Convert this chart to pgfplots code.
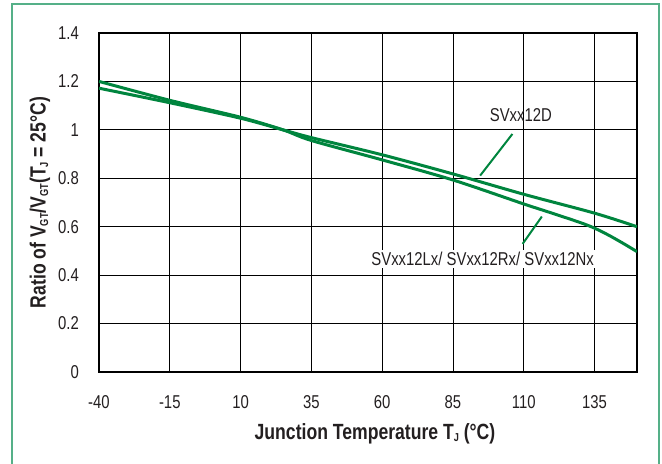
\documentclass[border=0pt]{standalone}
\usepackage{fontspec}
\setmainfont[FakeStretch=0.8]{Liberation Sans}
\newfontfamily\labfont[FakeStretch=0.8]{Liberation Sans Bold}
\usepackage{pgfplots}
\pgfplotsset{compat=1.18}
\definecolor{curve}{RGB}{0,133,62}
\definecolor{framec}{RGB}{85,176,136}
\definecolor{txt}{RGB}{35,31,32}
\newcommand{\sub}[1]{\raisebox{-2.5bp}{\fontsize{11.5bp}{11.5bp}\selectfont #1}}
\newcommand{\fs}{\fontsize{18.6bp}{22bp}\selectfont}
\newcommand{\fl}{\labfont\fontsize{22bp}{26bp}\selectfont}
\begin{document}
\begin{tikzpicture}
\path[use as bounding box] (-99bp,-92bp) rectangle (563bp,372bp);
\draw[framec, line width=2bp] (-87bp,-100bp) -- (-87bp,368bp) -- (560bp,368bp) -- (560bp,-100bp);
\begin{axis}[
  at={(0,0)}, anchor=south west, scale only axis, width=538bp, height=339bp,
  xmin=-40, xmax=150, ymin=0, ymax=1.4,
  xtick={-40,-15,10,35,60,85,110,135},
  xticklabels={-40,-15,10,35,60,85,110,135},
  ytick={0,0.2,0.4,0.6,0.8,1,1.2,1.4},
  yticklabels={0,0.2,0.4,0.6,0.8,1,1.2,1.4},
  grid=major, major grid style={black, line width=0.8bp},
  major tick length=0pt, tick style={draw=none},
  axis line style={black, line width=1.5bp},
  xticklabel style={font=\fs, text=txt, anchor=base, inner sep=0pt, yshift=-36bp},
  yticklabel style={font=\fs, text=txt, anchor=east, inner sep=0pt, xshift=-20bp},
  xlabel={Junction Temperature T\sub{J} (°C)},
  ylabel={Ratio of V\sub{GT}/V\sub{GT}(T\sub{J} = 25°C)},
  xlabel style={font=\fl, text=txt, at={(axis description cs:0.513,-0.1985)}, anchor=base, inner sep=0pt},
  ylabel style={font=\fl, text=txt, at={(axis description cs:-0.0991,0.5)}, anchor=base, inner sep=0pt},
]
\addplot[curve, line width=3bp, smooth] coordinates {
  (-40,1.172) (-15,1.112) (10,1.048) (25,1.0) (35,0.968) (60,0.897)
  (85,0.818) (110,0.734) (135,0.656) (150,0.600)};
\addplot[curve, line width=3bp, smooth] coordinates {
  (-40,1.200) (-15,1.122) (10,1.052) (25,1.0) (35,0.956) (60,0.876)
  (85,0.793) (110,0.694) (120,0.656) (130,0.617) (135,0.594) (140,0.565)
  (145,0.532) (150,0.497)};
\node[font=\fs, text=txt] at (axis cs:109,1.062) {SVxx12D};
\draw[curve, line width=2bp] (axis cs:106,0.983) -- (axis cs:94.6,0.811);
\node[font=\fs, text=txt, fill=white, inner sep=2bp] at (axis cs:95.5,0.467) {SVxx12Lx/ SVxx12Rx/ SVxx12Nx};
\draw[curve, line width=2bp] (axis cs:116.4,0.642) -- (axis cs:109.6,0.529);
\end{axis}
\end{tikzpicture}
\end{document}
